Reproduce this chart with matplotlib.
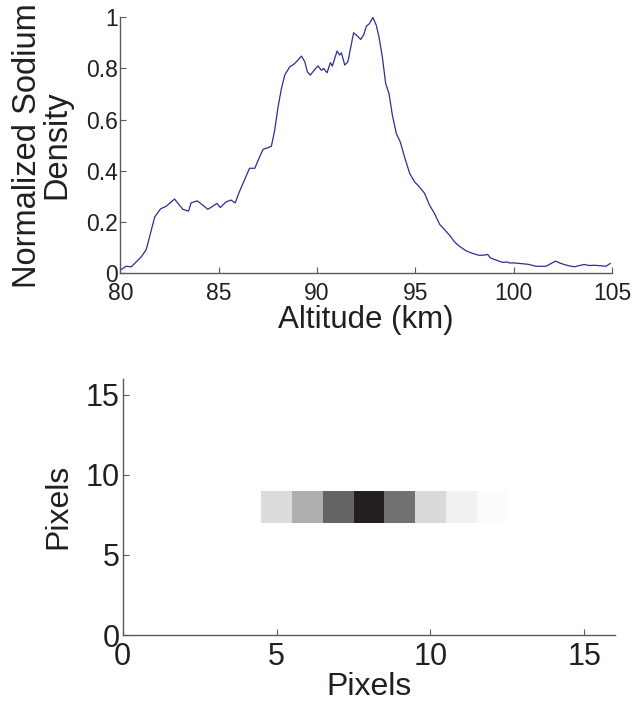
import numpy as np
import matplotlib
matplotlib.use('Agg')
import matplotlib.pyplot as plt
from matplotlib.colors import LinearSegmentedColormap

plt.rcParams['font.family'] = ['Liberation Sans', 'DejaVu Sans']

# perfil de sodio
altitude = [80.0, 80.3, 80.56, 80.81, 81.07, 81.32, 81.49, 81.75, 82.05, 82.34,
            82.5, 82.76, 83.18, 83.47, 83.6, 83.91, 84.2, 84.45, 84.7, 84.92,
            85.08, 85.38, 85.63, 85.84, 86.03, 86.31, 86.57, 86.84, 87.0, 87.26,
            87.51, 87.68, 87.85, 88.02, 88.19, 88.36, 88.61, 88.83, 88.98, 89.21,
            89.38, 89.51, 89.66, 89.83, 90.05, 90.22, 90.34, 90.51, 90.68, 90.78,
            91.02, 91.15, 91.24, 91.41, 91.57, 91.86, 92.0, 92.22, 92.37, 92.51,
            92.67, 92.84, 93.01, 93.15, 93.32, 93.49, 93.66, 93.83, 94.03, 94.23,
            94.45, 94.71, 94.96, 95.21, 95.47, 95.72, 95.97, 96.23, 96.48, 96.74,
            96.99, 97.24, 97.58, 97.92, 98.22, 98.43, 98.68, 98.8, 99.11, 99.44,
            99.65, 99.78, 100.04, 100.29, 100.71, 101.14, 101.64, 101.9, 102.12, 102.4,
            102.74, 103.08, 103.34, 103.59, 103.84, 104.1, 104.43, 104.69, 104.9]
densidade = [0.013, 0.028, 0.026, 0.045, 0.065, 0.093, 0.143, 0.22, 0.252, 0.262,
             0.273, 0.29, 0.25, 0.243, 0.275, 0.283, 0.266, 0.25, 0.262, 0.273,
             0.257, 0.279, 0.286, 0.275, 0.314, 0.364, 0.41, 0.41, 0.44, 0.484,
             0.49, 0.496, 0.558, 0.649, 0.72, 0.773, 0.805, 0.816, 0.827, 0.847,
             0.825, 0.786, 0.773, 0.79, 0.809, 0.792, 0.799, 0.782, 0.822, 0.808,
             0.867, 0.851, 0.86, 0.812, 0.825, 0.938, 0.929, 0.912, 0.929, 0.964,
             0.974, 0.998, 0.968, 0.922, 0.844, 0.74, 0.701, 0.617, 0.546, 0.513,
             0.454, 0.39, 0.357, 0.337, 0.312, 0.266, 0.234, 0.192, 0.171, 0.149,
             0.123, 0.106, 0.088, 0.078, 0.071, 0.071, 0.074, 0.061, 0.052, 0.043,
             0.045, 0.041, 0.041, 0.039, 0.036, 0.028, 0.028, 0.039, 0.048, 0.039,
             0.031, 0.026, 0.031, 0.035, 0.031, 0.032, 0.03, 0.028, 0.039]

# imagem 16x16 com a linha do feixe
pixel_x = np.arange(0, 17)
pixel_y = np.arange(0, 17, 2)
feixe_colunas = [5, 6, 7, 8, 9, 10, 11, 12]
feixe_linha = 8
feixe_valores = [0.16, 0.36, 0.69, 1.0, 0.64, 0.17, 0.064, 0.023]

cor_texto = '#231f20'
cor_eixo = '#5a5a5a'


def estilo_eixos(ax, tamanho, pad_x, pad_y):
    ax.spines['top'].set_visible(False)
    ax.spines['right'].set_visible(False)
    for s in ['left', 'bottom']:
        ax.spines[s].set_color(cor_eixo)
        ax.spines[s].set_linewidth(1.0)
    ax.tick_params(direction='in', length=4, width=0.8, color=cor_eixo,
                   labelsize=tamanho, labelcolor=cor_texto)
    ax.tick_params(axis='x', pad=pad_x)
    ax.tick_params(axis='y', pad=pad_y)


fig = plt.figure(figsize=(6.33, 7.03), dpi=100)

ax1 = fig.add_axes([0.190, 0.611, 0.777, 0.365])
ax1.plot(altitude, densidade, color='#2b2f94', linewidth=0.9)
ax1.set_xlim(80, 105)
ax1.set_ylim(0, 1)
ax1.set_xticks([80, 85, 90, 95, 100, 105])
ax1.set_yticks([0, 0.2, 0.4, 0.6, 0.8, 1])
ax1.set_yticklabels(['0', '0.2', '0.4', '0.6', '0.8', '1'])
estilo_eixos(ax1, 16.5, 6, 1.5)
ax1.set_xlabel('Altitude (km)', fontsize=22.5, color=cor_texto, labelpad=0)
ax1.set_ylabel('Normalized Sodium\nDensity', fontsize=23.5, color=cor_texto,
               labelpad=10, linespacing=0.95)

imagem = np.zeros((len(pixel_y), len(pixel_x)))
linha = list(pixel_y).index(feixe_linha)
for c, v in zip(feixe_colunas, feixe_valores):
    imagem[linha, c] = v
cmap = LinearSegmentedColormap.from_list('cinza', ['#ffffff', '#231f20'])

ax2 = fig.add_axes([0.1938, 0.0967, 0.778, 0.3646])
ax2.pcolormesh(pixel_x, pixel_y, imagem, cmap=cmap, vmin=0, vmax=1,
               shading='nearest')
ax2.set_xlim(0, 16)
ax2.set_ylim(0, 16)
ax2.set_xticks([0, 5, 10, 15])
ax2.set_yticks([0, 5, 10, 15])
estilo_eixos(ax2, 22, 5, 2)
ax2.set_xlabel('Pixels', fontsize=23, color=cor_texto, labelpad=0)
ax2.set_ylabel('Pixels', fontsize=23, color=cor_texto, labelpad=9)

fig.savefig('out.png', dpi=100)
